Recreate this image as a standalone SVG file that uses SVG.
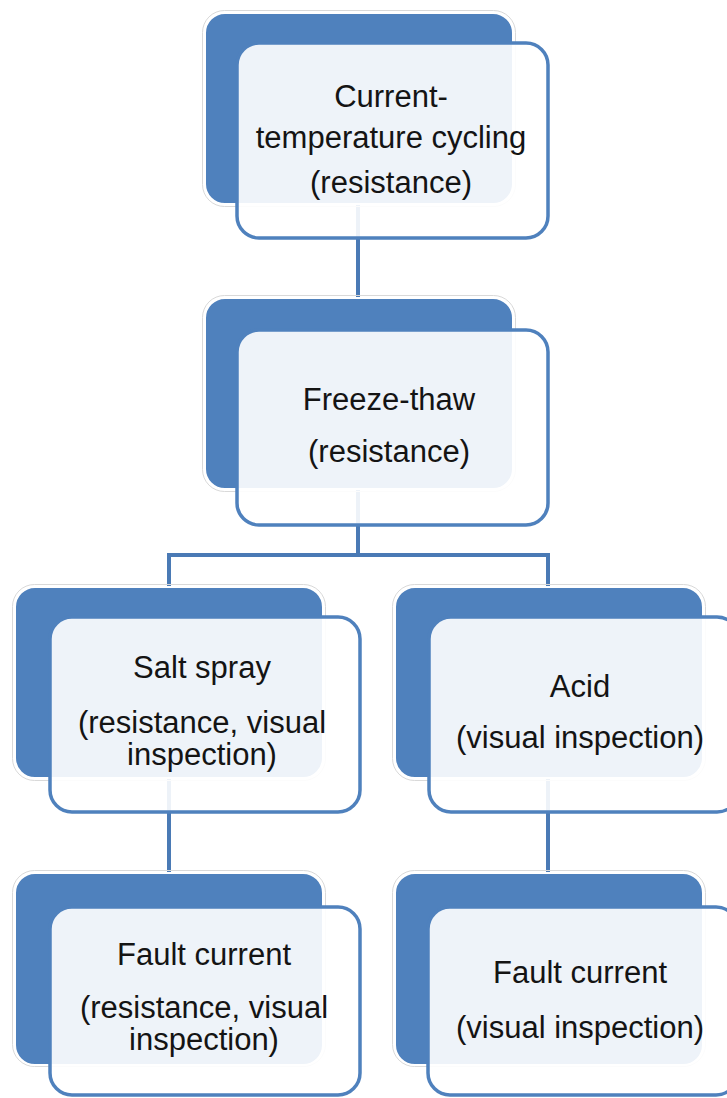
<svg xmlns="http://www.w3.org/2000/svg" width="727" height="1098" viewBox="0 0 727 1098">
<style>
.back{fill:#4f81bd;stroke:#ffffff;stroke-width:2}
.halo{fill:none;stroke:#d9d9d9;stroke-width:1}
.front{fill:#ffffff;fill-opacity:0.9;stroke:#4f81bd;stroke-width:3.5}
.conn{fill:none;stroke:#4a7ab5;stroke-width:4;stroke-linejoin:miter}
text{font-family:"Liberation Sans",Arial,sans-serif;font-size:31px;fill:#141414;text-anchor:middle}
</style>
<rect width="727" height="1098" fill="#ffffff"/>
<g id="connectors">
<path class="conn" d="M358 200 V298"/>
<path class="conn" d="M358 490 V555 M169 600 V555 H548 V600"/>
<path class="conn" d="M169 770 V880"/>
<path class="conn" d="M548 770 V880"/>
</g>
<g id="node1">
<rect class="halo" x="202.5" y="10.5" width="313" height="196" rx="22"/>
<rect class="back" x="205" y="13" width="308" height="191" rx="20"/>
<rect class="front" x="237" y="43" width="311" height="195" rx="22"/>
<text x="391" y="107">Current-</text>
<text x="391" y="148">temperature cycling</text>
<text x="391" y="193">(resistance)</text>
</g>
<g id="node2">
<rect class="halo" x="202.5" y="295.5" width="313" height="196" rx="22"/>
<rect class="back" x="205" y="298" width="308" height="191" rx="20"/>
<rect class="front" x="237" y="330" width="311" height="195" rx="22"/>
<text x="389" y="410">Freeze-thaw</text>
<text x="389" y="462">(resistance)</text>
</g>
<g id="node3">
<rect class="halo" x="12.5" y="584.5" width="313" height="196" rx="22"/>
<rect class="back" x="15" y="587" width="308" height="191" rx="20"/>
<rect class="front" x="50" y="617" width="310" height="195" rx="22"/>
<text x="202" y="678">Salt spray</text>
<text x="202" y="733">(resistance, visual</text>
<text x="202" y="765">inspection)</text>
</g>
<g id="node4">
<rect class="halo" x="392.5" y="584.5" width="313" height="196" rx="22"/>
<rect class="back" x="395" y="587" width="308" height="191" rx="20"/>
<rect class="front" x="429" y="617" width="310" height="195" rx="22"/>
<text x="580" y="697">Acid</text>
<text x="580" y="748">(visual inspection)</text>
</g>
<g id="node5">
<rect class="halo" x="12.5" y="870.5" width="313" height="196" rx="22"/>
<rect class="back" x="15" y="873" width="308" height="192" rx="20"/>
<rect class="front" x="50" y="907" width="310" height="188" rx="22"/>
<text x="204" y="965">Fault current</text>
<text x="204" y="1018">(resistance, visual</text>
<text x="204" y="1050">inspection)</text>
</g>
<g id="node6">
<rect class="halo" x="392.5" y="870.5" width="313" height="196" rx="22"/>
<rect class="back" x="395" y="873" width="308" height="192" rx="20"/>
<rect class="front" x="428" y="907" width="310" height="188" rx="22"/>
<text x="580" y="983">Fault current</text>
<text x="580" y="1038">(visual inspection)</text>
</g>
</svg>
